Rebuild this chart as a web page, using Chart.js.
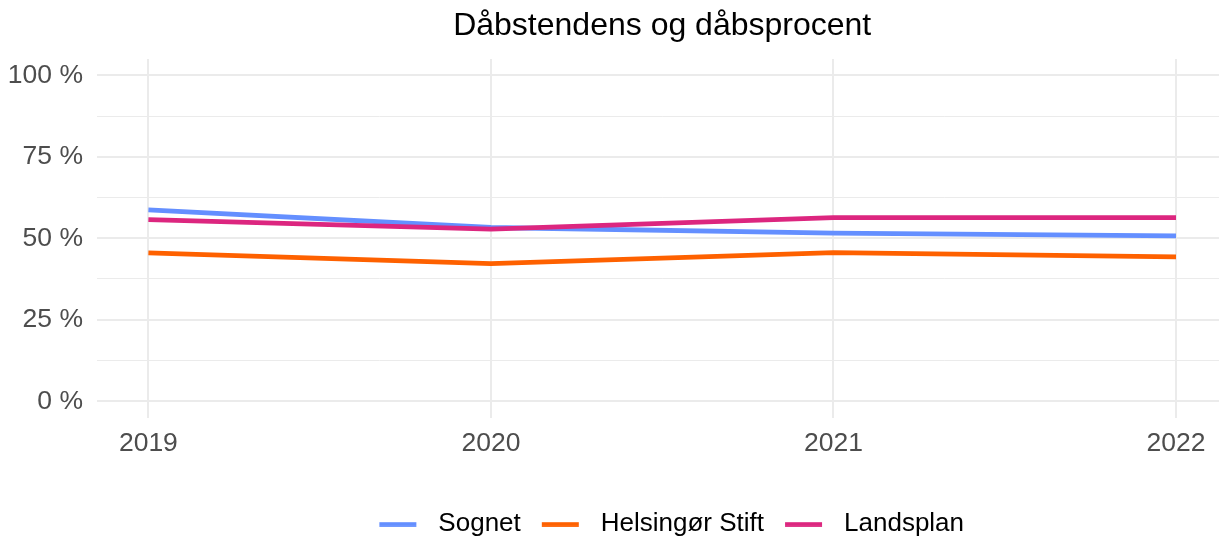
<!DOCTYPE html>
<html>
<head>
<meta charset="utf-8">
<script src="https://cdn.jsdelivr.net/npm/chart.js@4/dist/chart.umd.min.js"></script>
<style>
  html, body { margin: 0; padding: 0; background: #ffffff; overflow: hidden; }
  #wrap { width: 1219px; height: 537px; overflow: hidden; position: relative; }
  #c { display: block; }
</style>
</head>
<body>
<div id="wrap"><canvas id="c" width="1228" height="537"></canvas></div>
<script>
// ---- data ----
const years = [2019, 2020, 2021, 2022];
const seriesNames = ["Sognet", "Helsingør Stift", "Landsplan"];
const sognet = [58.7, 53.3, 51.6, 50.7];
const helsingor = [45.5, 42.2, 45.6, 44.3];
const landsplan = [55.7, 52.8, 56.3, 56.3];
const yTickValues = [0, 12.5, 25, 37.5, 50, 62.5, 75, 87.5, 100];
const yLabelValues = [0, 25, 50, 75, 100];
const titleText = "Dåbstendens og dåbsprocent";

const colors = ["#648FFF", "#FE6100", "#DC267F"];
const seriesValues = [sognet, helsingor, landsplan];

const FONT = "'Liberation Sans', Arial, Helvetica, sans-serif";
const GRID = "#EBEBEB";

// legend key images: transparent lead-in, 37px bar, transparent gap
function keyImage(color) {
  const cv = document.createElement('canvas');
  cv.width = 65; cv.height = 5;
  const g = cv.getContext('2d');
  g.fillStyle = color;
  g.fillRect(19, 0.4, 37, 4.5);
  return cv;
}

const datasets = seriesNames.map((name, i) => ({
  label: name,
  data: years.map((yr, j) => ({ x: yr, y: seriesValues[i][j] })),
  borderColor: colors[i],
  backgroundColor: colors[i],
  borderWidth: 4.8,
  pointRadius: 0,
  pointHoverRadius: 0,
  tension: 0,
  borderCapStyle: 'butt',
  borderJoinStyle: 'round',
  fill: false,
  order: seriesNames.length - 1 - i
}));

new Chart(document.getElementById('c'), {
  type: 'line',
  data: { datasets },
  options: {
    responsive: false,
    animation: false,
    devicePixelRatio: 1,
    layout: { padding: { left: 0, right: 0.6, top: 0, bottom: -10 } },
    plugins: {
      tooltip: { enabled: false },
      title: {
        display: true,
        text: titleText,
        color: '#000000',
        fullSize: false,
        font: { family: FONT, size: 32, weight: 'normal' },
        padding: { top: 7, bottom: 13.6 }
      },
      legend: {
        display: true,
        position: 'bottom',
        fullSize: false,
        labels: {
          color: '#000000',
          font: { family: FONT, size: 26 },
          usePointStyle: true,
          pointStyleWidth: 65,
          boxHeight: 5,
          padding: 2,
          generateLabels: (chart) => chart.data.datasets.map((d, i) => ({
            text: d.label,
            fillStyle: d.borderColor,
            strokeStyle: d.borderColor,
            lineWidth: 0,
            pointStyle: keyImage(d.borderColor),
            hidden: false,
            datasetIndex: i,
            fontColor: '#000000'
          }))
        }
      }
    },
    scales: {
      x: {
        type: 'linear',
        min: 2018.85,
        max: 2022.15,
        afterBuildTicks: (s) => { s.ticks = years.map(v => ({ value: v })); },
        afterFit: (s) => { s.height = 91.5; },
        border: { display: false },
        grid: { color: GRID, lineWidth: 2, drawTicks: false },
        ticks: {
          color: '#4D4D4D',
          font: { family: FONT, size: 26.5 },
          padding: 10,
          maxRotation: 0,
          autoSkip: false,
          callback: (v) => String(v)
        }
      },
      y: {
        type: 'linear',
        min: -5,
        max: 105,
        afterBuildTicks: (s) => { s.ticks = yTickValues.map(v => ({ value: v })); },
        afterFit: (s) => { s.width = 97; },
        border: { display: false },
        grid: {
          color: GRID,
          drawTicks: false,
          lineWidth: (ctx) => (ctx.tick && yLabelValues.includes(ctx.tick.value)) ? 2 : 1
        },
        ticks: {
          color: '#4D4D4D',
          font: { family: FONT, size: 26.5 },
          padding: 14,
          autoSkip: false,
          callback: (v) => yLabelValues.includes(v) ? (v + ' %') : ''
        }
      }
    }
  }
});
</script>
</body>
</html>
